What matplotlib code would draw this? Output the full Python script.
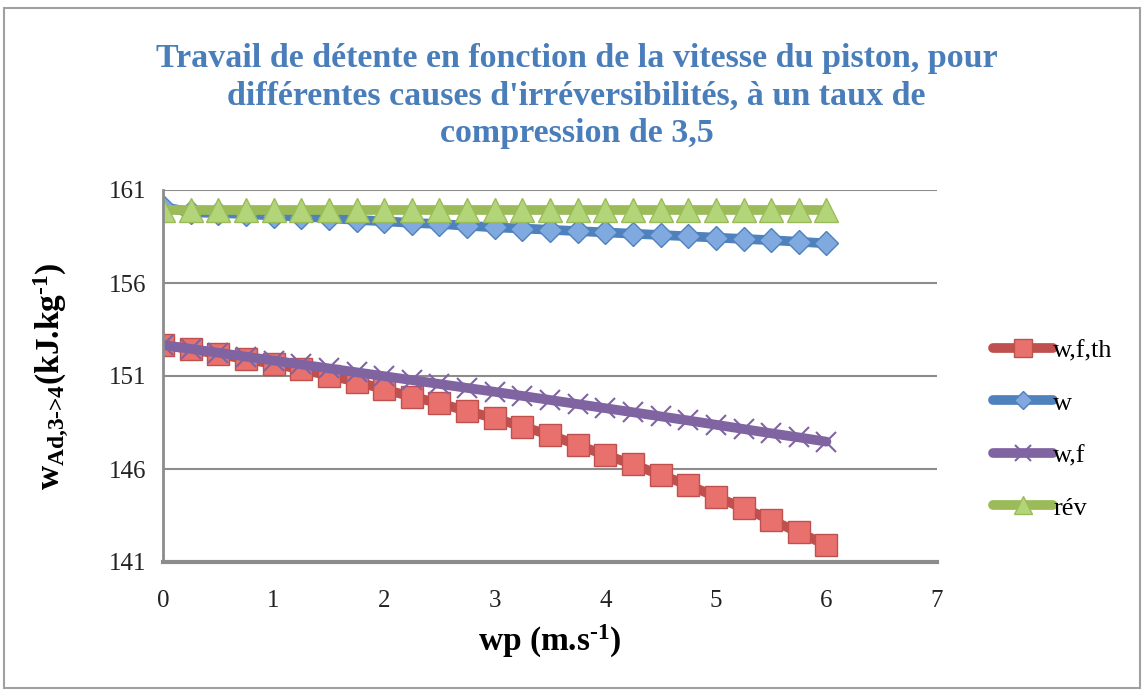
import matplotlib
matplotlib.use("Agg")
import matplotlib.pyplot as plt
from matplotlib.patches import Rectangle

# piston speed (m/s)
wp = [0.0, 0.25, 0.5, 0.75, 1.0, 1.25, 1.5, 1.75, 2.0, 2.25, 2.5, 2.75, 3.0,
      3.25, 3.5, 3.75, 4.0, 4.25, 4.5, 4.75, 5.0, 5.25, 5.5, 5.75, 6.0]

w_f_th = [152.67, 152.43, 152.18, 151.90, 151.65, 151.36, 151.02, 150.70, 150.28,
          149.89, 149.53, 149.12, 148.73, 148.28, 147.83, 147.29, 146.75, 146.25,
          145.68, 145.14, 144.51, 143.89, 143.26, 142.59, 141.91]
w = [160.10, 159.80, 159.76, 159.71, 159.62, 159.57, 159.49, 159.39, 159.32,
     159.23, 159.17, 159.08, 158.99, 158.93, 158.86, 158.79, 158.72, 158.65,
     158.58, 158.51, 158.44, 158.37, 158.30, 158.22, 158.13]
w_f = [152.67, 152.46, 152.25, 152.04, 151.83, 151.62, 151.41, 151.20, 150.99,
       150.78, 150.57, 150.36, 150.15, 149.93, 149.71, 149.49, 149.27, 149.05,
       148.83, 148.61, 148.38, 148.15, 147.92, 147.70, 147.47]
rev = [159.95] * 25

labels = ["w,f,th", "w", "w,f", "rév"]
yticks = [141, 146, 151, 156, 161]
xticks = [0, 1, 2, 3, 4, 5, 6, 7]

plt.rcParams['font.family'] = ['Liberation Serif', 'DejaVu Serif']
plt.rcParams['mathtext.fontset'] = 'custom'
plt.rcParams['mathtext.rm'] = 'Liberation Serif:bold'
plt.rcParams['mathtext.it'] = 'Liberation Serif:bold'
plt.rcParams['mathtext.bf'] = 'Liberation Serif:bold'

fig = plt.figure(figsize=(11.42, 6.9), dpi=100)
ax = fig.add_axes([163/1142, 1-562/690, (937-163)/1142, (562-190)/690])

grey = '#8c8c8c'
lw = 7
ax.plot(wp, w_f_th, color='#C0504D', lw=lw, marker='s', ms=16,
        mfc='#E8716E', mec='#C0504D', mew=1, label=labels[0], solid_capstyle='round')
ax.plot(wp, w, color='#4F81BD', lw=lw, marker='D', ms=12,
        mfc='#7FA9DF', mec='#4F81BD', mew=1, label=labels[1], solid_capstyle='round')
ax.plot(wp, w_f, color='#8064A2', lw=lw, marker='x', ms=15,
        mec='#8064A2', mew=1.5, label=labels[2], solid_capstyle='round')
ax.plot(wp, rev, color='#9BBB59', lw=lw, marker='^', ms=17,
        mfc='#B3D57A', mec='#9BBB59', mew=1, label=labels[3], solid_capstyle='round')

ax.set_xlim(0, 7)
ax.set_ylim(141, 161)
ax.set_xticks(xticks)
ax.set_yticks(yticks)
ax.tick_params(length=0, labelsize=18, colors='#222222')
ax.tick_params(axis='x', pad=20)
ax.tick_params(axis='y', pad=12)
ax.grid(axis='y', color=grey, lw=1.5)
ax.set_axisbelow(True)
for s in ['top', 'right']:
    ax.spines[s].set_visible(False)
ax.spines['left'].set_color(grey)
ax.spines['left'].set_linewidth(2)
ax.spines['bottom'].set_color(grey)
ax.spines['bottom'].set_linewidth(3)

ax.set_xlabel(r'wp (m.s$^{\text{-1}}$)', fontsize=24, fontweight='bold', labelpad=8)
ax.set_ylabel(r'w$_{\text{Ad,3->4}}$(kJ.kg$^{\text{-1}}$)', fontsize=24,
              fontweight='bold', labelpad=27)

fig.text(0.505, 1-96/690, "Travail de détente en fonction de la vitesse du piston, pour\n"
         "différentes causes d'irréversibilités, à un taux de\ncompression de 3,5",
         ha='center', va='center', fontsize=24.5, fontweight='bold', color='#4A7EBB',
         linespacing=1.28)

leg = fig.legend(loc='upper left', bbox_to_anchor=(982/1142, 1-328/690), frameon=False,
                 fontsize=19, handlelength=2.3, handletextpad=0.0, labelspacing=1.1,
                 borderaxespad=0, markerscale=0.8)

fig.patches.append(Rectangle((4/1142, 2/690), 1136/1142, 680/690, transform=fig.transFigure,
                             fill=False, edgecolor='#a0a0a0', lw=1.5))

fig.savefig('out.png', dpi=100)
